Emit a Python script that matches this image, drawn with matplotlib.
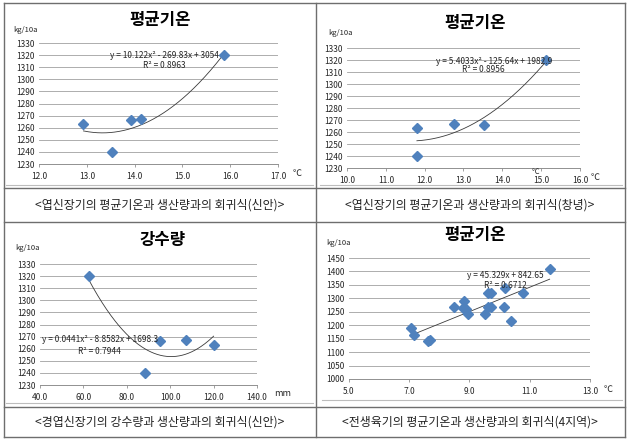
import matplotlib
matplotlib.use("Agg")
import matplotlib.pyplot as plt
from matplotlib.lines import Line2D
import numpy as np

plt.rcParams['font.family'] = ['Noto Sans CJK KR', 'DejaVu Sans']

W, H = 635, 445

# ---------------- data ----------------
c1_title = "평균기온"
c1_x = [12.93, 13.53, 13.93, 14.13, 15.87]
c1_y = [1263, 1240, 1266, 1267, 1320]
c1_coef = [10.122, -269.83, 3054]
c1_eq = "y = 10.122x² - 269.83x + 3054"
c1_r2 = "R² = 0.8963"
c1_xticks = [12.0, 13.0, 14.0, 15.0, 16.0, 17.0]
c1_yticks = list(range(1230, 1331, 10))
c1_caption = "<엽신장기의 평균기온과 생산량과의 회귀식(신안)>"

c2_title = "평균기온"
c2_x = [11.8, 11.8, 12.75, 13.52, 15.12]
c2_y = [1263, 1240, 1267, 1266, 1320]
c2_coef = [5.4033, -125.64, 1982.9]
c2_eq = "y = 5.4033x² - 125.64x + 1982.9"
c2_r2 = "R² = 0.8956"
c2_xticks = [10.0, 11.0, 12.0, 13.0, 14.0, 15.0, 16.0]
c2_yticks = list(range(1230, 1331, 10))
c2_caption = "<엽신장기의 평균기온과 생산량과의 회귀식(창녕)>"

c3_title = "강수량"
c3_x = [62.5, 88.5, 95.5, 107.5, 120.0]
c3_y = [1320, 1240, 1266, 1267, 1263]
c3_coef = [0.0441, -8.8582, 1698.3]
c3_eq = "y = 0.0441x² - 8.8582x + 1698.3"
c3_r2 = "R² = 0.7944"
c3_xticks = [40.0, 60.0, 80.0, 100.0, 120.0, 140.0]
c3_yticks = list(range(1230, 1331, 10))
c3_caption = "<경엽신장기의 강수량과 생산량과의 회귀식(신안)>"

c4_title = "평균기온"
c4_x = [7.05, 7.17, 7.61, 7.68, 8.50, 8.83, 8.80, 8.88, 8.94, 9.51,
        9.60, 9.60, 9.71, 9.73, 10.13, 10.18, 10.38, 10.77, 11.66]
c4_y = [1190, 1164, 1140, 1145, 1267, 1290, 1265, 1262, 1241, 1241,
        1266, 1319, 1319, 1266, 1266, 1339, 1215, 1319, 1410]
c4_coef = [45.329, 842.65]
c4_eq = "y = 45.329x + 842.65"
c4_r2 = "R² = 0.6712"
c4_xticks = [5.0, 7.0, 9.0, 11.0, 13.0]
c4_yticks = list(range(1000, 1451, 50))
c4_caption = "<전생육기의 평균기온과 생산량과의 회귀식(4지역)>"

unit_y = "kg/10a"

# ---------------- helpers ----------------
fig = plt.figure(figsize=(W / 100, H / 100), dpi=100)
fig.patch.set_facecolor('white')


def fx(px):
    return px / W


def fy(py):
    return 1 - py / H


def hline(y, x0, x1, color='#6e6e6e', lw=1.0):
    fig.add_artist(Line2D([fx(x0), fx(x1)], [fy(y), fy(y)], color=color, lw=lw))


def vline(x, y0, y1, color='#6e6e6e', lw=1.0):
    fig.add_artist(Line2D([fx(x), fx(x)], [fy(y0), fy(y1)], color=color, lw=lw))


def ftext(x, y, s, **kw):
    fig.text(fx(x), fy(y), s, **kw)


BLUE = '#4F81BD'
TXT = '#262626'


def make_chart(box, xlim, ylim, xticks, yticks, xs, ys, coef, eq, r2,
               eqpos, r2pos, title, titlepos, unitpos, xunit, xunitpos):
    l, t, r, b = box
    ax = fig.add_axes([fx(l), fy(b), fx(r - l), (b - t) / H])
    ax.set_xlim(*xlim)
    ax.set_ylim(*ylim)
    ax.set_xticks(xticks)
    ax.set_yticks(yticks)
    ax.set_xticklabels([f"{v:.1f}" for v in xticks], fontsize=6, color=TXT)
    ax.set_yticklabels([str(v) for v in yticks], fontsize=6, color=TXT)
    ax.grid(axis='y', color='#a0a0a0', lw=0.6)
    ax.set_axisbelow(True)
    for s in ['top', 'right', 'left']:
        ax.spines[s].set_visible(False)
    ax.spines['bottom'].set_color('#909090')
    ax.spines['bottom'].set_linewidth(0.7)
    ax.tick_params(axis='y', length=0, pad=3)
    ax.tick_params(axis='x', length=2.5, width=0.6, color='#909090', pad=3)
    ax.patch.set_alpha(0)
    xx = np.linspace(min(xs), max(xs), 200)
    yy = np.polyval(coef, xx)
    ax.plot(xx, yy, color='#3a3a3a', lw=0.6, zorder=2)
    ax.plot(xs, ys, ls='none', marker='D', ms=4.8, color=BLUE,
            markeredgecolor=BLUE, zorder=3, clip_on=False)
    ftext(eqpos[0], eqpos[1], eq, fontsize=6, ha='center', va='center', color=TXT)
    ftext(r2pos[0], r2pos[1], r2, fontsize=6, ha='center', va='center', color=TXT)
    ftext(titlepos[0], titlepos[1], title, fontsize=12, fontweight='bold',
          ha='center', va='center', color='black')
    ftext(unitpos[0], unitpos[1], unit_y, fontsize=5.5, ha='left', va='center', color=TXT)
    ftext(xunitpos[0], xunitpos[1], xunit, fontsize=6.5, ha='center', va='center', color=TXT)
    return ax


# chart 1 (top-left)
make_chart((39, 43, 278, 164), (12, 17), (1230, 1330), c1_xticks, c1_yticks,
           c1_x, c1_y, c1_coef, c1_eq, c1_r2, (164, 55), (164, 66),
           c1_title, (160, 20), (13, 30), "℃", (297, 174))

# chart 2 (top-right)
make_chart((347, 48, 580, 168), (10, 16), (1230, 1330), c2_xticks, c2_yticks,
           c2_x, c2_y, c2_coef, c2_eq, c2_r2, (494, 62), (483, 70),
           c2_title, (475, 23), (328, 33), "℃", (595, 178))
ftext(535, 172, "℃", fontsize=5.5, ha='center', va='center', color=TXT)

# chart 3 (bottom-left)
make_chart((40, 264, 257, 385), (40, 140), (1230, 1330), c3_xticks, c3_yticks,
           c3_x, c3_y, c3_coef, c3_eq, c3_r2, (100, 340), (99, 351),
           c3_title, (163, 240), (15, 248), "mm", (283, 394))

# chart 4 (bottom-right)
make_chart((349, 258, 590, 379), (5, 13), (1000, 1450), c4_xticks, c4_yticks,
           c4_x, c4_y, c4_coef, c4_eq, c4_r2, (505, 275), (505, 285),
           c4_title, (475, 235), (326, 243), "℃", (608, 390))

# chart-area borders (light grey)
for (l, t, r, b) in [(6, 5, 313, 185), (320, 5, 622, 185),
                     (6, 225, 313, 403), (322, 225, 622, 400)]:
    hline(b, l, r, color='#bdbdbd', lw=0.8)

# table borders
for y in [3, 188, 222, 407, 437]:
    hline(y, 4, 625)
for x in [4, 316, 625]:
    vline(x, 3, 437)

# captions
ftext(160, 205, c1_caption, fontsize=8.6, ha='center', va='center', color='#222222')
ftext(470, 205, c2_caption, fontsize=8.6, ha='center', va='center', color='#222222')
ftext(160, 422, c3_caption, fontsize=8.6, ha='center', va='center', color='#222222')
ftext(470, 422, c4_caption, fontsize=8.6, ha='center', va='center', color='#222222')

fig.savefig("out.png", dpi=100)
